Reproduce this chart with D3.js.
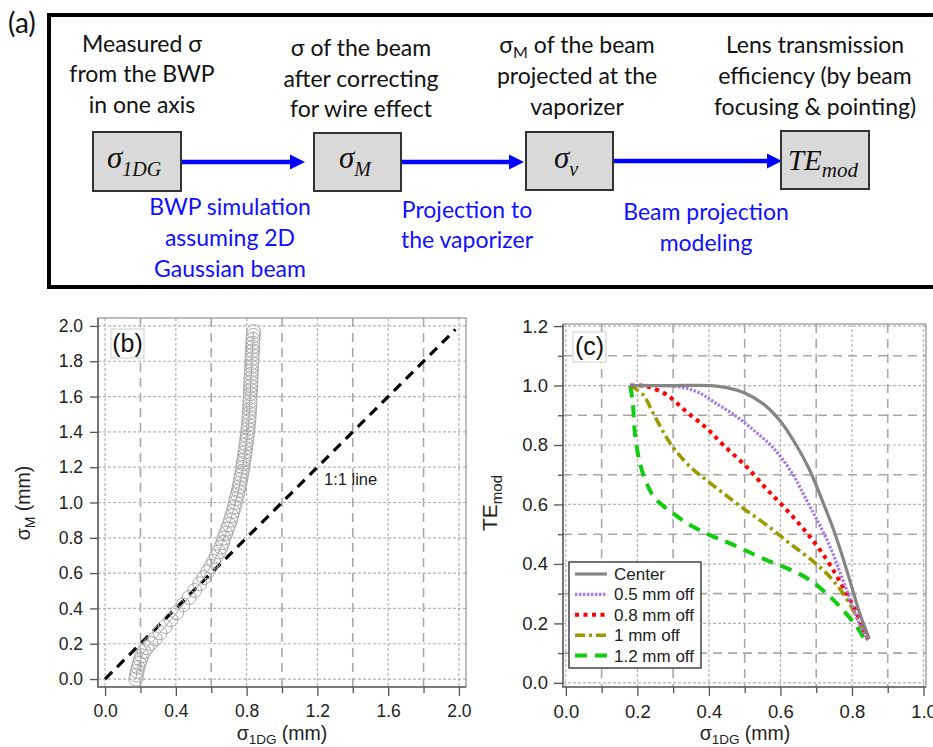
<!DOCTYPE html>
<html>
<head>
<meta charset="utf-8">
<script src="https://cdn.jsdelivr.net/npm/d3@7"></script>
<style>
  body { margin: 0; background: #fff; }
  svg { display: block; }
</style>
</head>
<body>
<svg id="chart" width="933" height="747"></svg>
<script>
// ---------- (a) workflow diagram text ----------
const stepNotes = [
  ["Measured σ", "from the BWP", "in one axis"],
  ["σ of the beam", "after correcting", "for wire effect"],
  ["σ_M of the beam", "projected at the", "vaporizer"],
  ["Lens transmission", "efficiency (by beam", "focusing & pointing)"]
];
const processNotes = [
  ["BWP simulation", "assuming 2D", "Gaussian beam"],
  ["Projection to", "the vaporizer"],
  ["Beam projection", "modeling"]
];
const stepSymbols = [
  { main: "σ", sub: "1DG" },
  { main: "σ", sub: "M" },
  { main: "σ", sub: "v" },
  { main: "TE", sub: "mod" }
];

// ---------- (b) σM versus σ1DG ----------
const sigma1DG_b = [
  0.174, 0.177, 0.181, 0.186, 0.193, 0.200, 0.208, 0.220, 0.237, 0.258,
  0.283, 0.310, 0.340, 0.372, 0.405, 0.440, 0.475, 0.507, 0.535, 0.558,
  0.580, 0.598, 0.614, 0.628, 0.642, 0.655, 0.665, 0.672, 0.682, 0.692,
  0.700, 0.709, 0.716, 0.723, 0.730, 0.737, 0.742, 0.748, 0.753, 0.758,
  0.762, 0.767, 0.771, 0.775, 0.778, 0.781, 0.785, 0.788, 0.791, 0.794,
  0.797, 0.800, 0.803, 0.806, 0.808, 0.810, 0.812, 0.814, 0.815, 0.817,
  0.818, 0.819, 0.820, 0.821, 0.822, 0.823, 0.824, 0.825, 0.826, 0.827,
  0.828, 0.829, 0.830, 0.831, 0.833, 0.834, 0.835, 0.836, 0.838, 0.839
];
const sigmaM_b = [
  0.000, 0.022, 0.044, 0.066, 0.088, 0.110, 0.132, 0.155, 0.178, 0.202,
  0.228, 0.262, 0.298, 0.336, 0.376, 0.420, 0.462, 0.502, 0.540, 0.575,
  0.608, 0.638, 0.666, 0.693, 0.720, 0.747, 0.773, 0.799, 0.825, 0.850,
  0.875, 0.900, 0.925, 0.950, 0.975, 1.000, 1.022, 1.044, 1.066, 1.088,
  1.110, 1.132, 1.154, 1.176, 1.198, 1.220, 1.242, 1.264, 1.286, 1.308,
  1.330, 1.352, 1.374, 1.396, 1.418, 1.440, 1.462, 1.484, 1.506, 1.528,
  1.550, 1.572, 1.594, 1.616, 1.638, 1.660, 1.682, 1.704, 1.726, 1.748,
  1.770, 1.792, 1.814, 1.836, 1.858, 1.880, 1.902, 1.924, 1.946, 1.968
];
const oneToOne = [0, 1.98];
const xTicksB = [0, 0.4, 0.8, 1.2, 1.6, 2.0];
const xMinorB = [0.2, 0.6, 1.0, 1.4, 1.8];
const yTicksB = [0, 0.2, 0.4, 0.6, 0.8, 1.0, 1.2, 1.4, 1.6, 1.8, 2.0];

// ---------- (c) TEmod versus σ1DG ----------
const seriesNames = ["Center", "0.5 mm off", "0.8 mm off", "1 mm off", "1.2 mm off"];
const centerX = [0.18, 0.30, 0.40, 0.45, 0.50, 0.55, 0.60, 0.644, 0.68, 0.718, 0.75, 0.78, 0.80, 0.82, 0.835, 0.848];
const centerY = [1.00, 1.00, 1.00, 0.993, 0.975, 0.94, 0.88, 0.80, 0.72, 0.61, 0.51, 0.40, 0.32, 0.24, 0.19, 0.15];
const off05X = [0.18, 0.25, 0.31, 0.365, 0.42, 0.477, 0.524, 0.58, 0.63, 0.675, 0.71, 0.745, 0.77, 0.795, 0.815, 0.832, 0.846];
const off05Y = [1.00, 1.00, 0.997, 0.98, 0.94, 0.896, 0.851, 0.79, 0.71, 0.61, 0.53, 0.44, 0.36, 0.28, 0.215, 0.17, 0.145];
const off08X = [0.18, 0.21, 0.235, 0.282, 0.337, 0.393, 0.44, 0.505, 0.561, 0.603, 0.645, 0.682, 0.724, 0.757, 0.789, 0.813, 0.831, 0.845];
const off08Y = [1.00, 1.00, 0.994, 0.969, 0.912, 0.857, 0.80, 0.727, 0.652, 0.60, 0.545, 0.492, 0.424, 0.36, 0.292, 0.234, 0.18, 0.145];
const off10X = [0.18, 0.216, 0.244, 0.272, 0.295, 0.347, 0.393, 0.44, 0.496, 0.561, 0.626, 0.69, 0.738, 0.775, 0.803, 0.831, 0.845];
const off10Y = [1.00, 0.969, 0.907, 0.845, 0.80, 0.727, 0.682, 0.638, 0.587, 0.531, 0.469, 0.41, 0.357, 0.301, 0.245, 0.177, 0.144];
const off12X = [0.18, 0.184, 0.188, 0.193, 0.207, 0.226, 0.249, 0.30, 0.347, 0.403, 0.459, 0.561, 0.631, 0.682, 0.734, 0.771, 0.813, 0.841];
const off12Y = [1.00, 0.97, 0.93, 0.84, 0.739, 0.671, 0.621, 0.57, 0.531, 0.497, 0.469, 0.413, 0.379, 0.346, 0.295, 0.25, 0.189, 0.133];
const xTicksC = [0, 0.2, 0.4, 0.6, 0.8, 1.0];
const xMinorC = [0.1, 0.3, 0.5, 0.7, 0.9];
const yTicksC = [0, 0.2, 0.4, 0.6, 0.8, 1.0, 1.2];
const yMinorC = [0.1, 0.3, 0.5, 0.7, 0.9, 1.1];

// ---------- drawing ----------
const svg = d3.select("#chart");
const SANS = "'Liberation Sans', Arial, sans-serif";
const CAL = "Lato, 'Open Sans', sans-serif";
const MATH = "'Liberation Serif', 'DejaVu Serif', serif";

// text with "_sub" segments rendered as subscripts
function rich(sel, str, size, subSize, subDy) {
  const parts = str.split(/_(\w+)/);
  let shifted = false;
  parts.forEach((p, i) => {
    if (!p) return;
    const t = sel.append("tspan").text(p);
    if (i % 2 === 1) {
      t.attr("font-size", subSize).attr("dy", subDy);
      shifted = true;
    } else {
      t.attr("font-size", size);
      if (shifted) { t.attr("dy", -subDy); shifted = false; }
    }
  });
  return sel;
}

// ===== (a) =====
const gA = svg.append("g");
gA.append("text").attr("x", 8).attr("y", 33).attr("font-family", CAL)
  .attr("font-size", 28).attr("fill", "#111").text("(a)");
gA.append("rect").attr("x", 49).attr("y", 15).attr("width", 900).attr("height", 272)
  .attr("fill", "none").attr("stroke", "#000").attr("stroke-width", 4);

const noteCx = [142, 361, 577, 815];
const noteBase = [[52, 82, 113], [56, 87, 117], [53, 84, 115], [53, 84, 115]];
stepNotes.forEach((lines, i) => {
  lines.forEach((ln, j) => {
    const t = gA.append("text").attr("x", noteCx[i]).attr("y", noteBase[i][j])
      .attr("text-anchor", "middle").attr("font-family", CAL).attr("fill", "#111");
    rich(t, ln, 23, 16, 5);
  });
});
const procCx = [230, 467, 706];
const procBase = [[215, 246, 277], [218, 248], [220, 251]];
processNotes.forEach((lines, i) => {
  lines.forEach((ln, j) => {
    gA.append("text").attr("x", procCx[i]).attr("y", procBase[i][j])
      .attr("text-anchor", "middle").attr("font-family", CAL).attr("font-size", 23)
      .attr("fill", "#1010ff").text(ln);
  });
});

const boxes = [
  { x: 93, y: 132, w: 88, h: 59, tx: 134, ty: 168 },
  { x: 314, y: 133, w: 87, h: 58, tx: 355, ty: 168 },
  { x: 526, y: 132, w: 87, h: 58, tx: 566, ty: 168 },
  { x: 781, y: 131, w: 88, h: 58, tx: 823, ty: 170 }
];
const arrows = [
  { x1: 181, x2: 305, y: 162 },
  { x1: 401, x2: 524, y: 162 },
  { x1: 613, x2: 782, y: 161 }
];
arrows.forEach(a => {
  gA.append("line").attr("x1", a.x1).attr("x2", a.x2 - 12).attr("y1", a.y).attr("y2", a.y)
    .attr("stroke", "#0000ff").attr("stroke-width", 4.5);
  gA.append("path")
    .attr("d", `M${a.x2 - 15},${a.y - 7.5}L${a.x2},${a.y}L${a.x2 - 15},${a.y + 7.5}Z`)
    .attr("fill", "#0000ff");
});
boxes.forEach((b, i) => {
  gA.append("rect").attr("x", b.x).attr("y", b.y).attr("width", b.w).attr("height", b.h)
    .attr("fill", "#d9d9d9").attr("stroke", "#333").attr("stroke-width", 2);
  const s = stepSymbols[i];
  const t = gA.append("text").attr("x", b.tx).attr("y", b.ty).attr("text-anchor", "middle")
    .attr("font-family", MATH).attr("font-style", "italic").attr("fill", "#111");
  t.append("tspan").attr("font-size", s.main === "TE" ? 29 : 31).text(s.main);
  t.append("tspan").attr("font-size", s.main === "TE" ? 21 : 20).attr("dy", s.main === "TE" ? 7 : 8).text(s.sub);
});

// ===== shared axis helpers =====
function gridLines(g, vals, scale, orient, x0, x1, style) {
  g.selectAll(null).data(vals).enter().append("line")
    .attr(orient === "v" ? "x1" : "y1", d => scale(d))
    .attr(orient === "v" ? "x2" : "y2", d => scale(d))
    .attr(orient === "v" ? "y1" : "x1", x0)
    .attr(orient === "v" ? "y2" : "x2", x1)
    .attr("stroke", style.c).attr("stroke-width", style.w).attr("stroke-dasharray", style.d);
}
const fineGrid = { c: "#b4b4b4", w: 1.2, d: "3,2" };
const longGrid = { c: "#a8a8a8", w: 1.6, d: "9,6" };

function styleAxis(g, fs) {
  g.select(".domain").remove();
  g.selectAll(".tick line").attr("stroke", "#555").attr("stroke-width", 1.3);
  g.selectAll(".tick text").attr("font-family", SANS).attr("font-size", fs).attr("fill", "#222");
}

// ===== (b) =====
const xB = d3.scaleLinear().domain([-0.04, 2.04]).range([98, 466]);
const yB = d3.scaleLinear().domain([-0.045, 2.045]).range([687, 318]);
const gB = svg.append("g");

gridLines(gB, xTicksB, xB, "v", 318, 687, fineGrid);
gridLines(gB, xMinorB, xB, "v", 318, 687, longGrid);
gridLines(gB, yTicksB, yB, "h", 98, 466, fineGrid);

gB.append("rect").attr("x", 98).attr("y", 318).attr("width", 368).attr("height", 369)
  .attr("fill", "none").attr("stroke", "#999").attr("stroke-width", 1.3);
gB.append("path").attr("d", "M98,318V687H466").attr("fill", "none")
  .attr("stroke", "#666").attr("stroke-width", 1.6);

const axXB = gB.append("g").attr("transform", "translate(0,687)")
  .call(d3.axisBottom(xB).tickValues(xTicksB).tickSize(9).tickPadding(9).tickFormat(d3.format(".1f")));
styleAxis(axXB, 17.5);
const axXBm = gB.append("g").attr("transform", "translate(0,687)")
  .call(d3.axisBottom(xB).tickValues(xMinorB).tickSize(6).tickFormat(""));
styleAxis(axXBm, 17.5);
const axYB = gB.append("g").attr("transform", "translate(98,0)")
  .call(d3.axisLeft(yB).tickValues(yTicksB).tickSize(8).tickPadding(7).tickFormat(d3.format(".1f")));
styleAxis(axYB, 17.5);

// 1:1 reference line
gB.append("line").attr("x1", xB(oneToOne[0])).attr("y1", yB(oneToOne[0]))
  .attr("x2", xB(oneToOne[1])).attr("y2", yB(oneToOne[1]))
  .attr("stroke", "#000").attr("stroke-width", 3.2).attr("stroke-dasharray", "10,7");
gB.append("text").attr("x", 324).attr("y", 485).attr("font-family", SANS)
  .attr("font-size", 16.5).attr("fill", "#222").text("1:1 line");

// measured points
const ptsB = sigma1DG_b.map((x, i) => [x, sigmaM_b[i]]);
gB.append("path").datum(ptsB)
  .attr("d", d3.line().x(d => xB(d[0])).y(d => yB(d[1])))
  .attr("fill", "none").attr("stroke", "#a0a0a0").attr("stroke-width", 1);
gB.selectAll("circle.pt").data(ptsB).enter().append("circle").attr("class", "pt")
  .attr("cx", d => xB(d[0])).attr("cy", d => yB(d[1])).attr("r", 7)
  .attr("fill", "none").attr("stroke", "#a8a8a8").attr("stroke-width", 1);

gB.append("rect").attr("x", 111).attr("y", 329).attr("width", 33).attr("height", 29)
  .attr("fill", "#fff").attr("stroke", "#ccc").attr("stroke-width", 1);
gB.append("text").attr("x", 127.5).attr("y", 352).attr("text-anchor", "middle")
  .attr("font-family", SANS).attr("font-size", 25).attr("fill", "#111").text("(b)");

rich(gB.append("text").attr("x", 282).attr("y", 740).attr("text-anchor", "middle")
  .attr("font-family", SANS).attr("fill", "#222"), "σ_1DG (mm)", 19.5, 13.5, 4);
rich(gB.append("text").attr("transform", "translate(30,503) rotate(-90)").attr("text-anchor", "middle")
  .attr("font-family", SANS).attr("fill", "#222"), "σ_M (mm)", 19.5, 14, 5);

// ===== (c) =====
const xC = d3.scaleLinear().domain([-0.008, 1.007]).range([563, 926]);
const yC = d3.scaleLinear().domain([-0.014, 1.207]).range([687, 324]);
const gC = svg.append("g");

gridLines(gC, xTicksC, xC, "v", 324, 687, fineGrid);
gridLines(gC, xMinorC, xC, "v", 324, 687, longGrid);
gridLines(gC, yTicksC, yC, "h", 563, 926, fineGrid);
gridLines(gC, yMinorC, yC, "h", 563, 926, longGrid);

gC.append("rect").attr("x", 563).attr("y", 324).attr("width", 363).attr("height", 363)
  .attr("fill", "none").attr("stroke", "#999").attr("stroke-width", 1.3);
gC.append("path").attr("d", "M563,324V687H926").attr("fill", "none")
  .attr("stroke", "#666").attr("stroke-width", 1.6);

const axXC = gC.append("g").attr("transform", "translate(0,687)")
  .call(d3.axisBottom(xC).tickValues(xTicksC).tickSize(9).tickPadding(9).tickFormat(d3.format(".1f")));
styleAxis(axXC, 18.5);
const axXCm = gC.append("g").attr("transform", "translate(0,687)")
  .call(d3.axisBottom(xC).tickValues(xMinorC).tickSize(6).tickFormat(""));
styleAxis(axXCm, 18.5);
const axYC = gC.append("g").attr("transform", "translate(563,0)")
  .call(d3.axisLeft(yC).tickValues(yTicksC).tickSize(9).tickPadding(6).tickFormat(d3.format(".1f")));
styleAxis(axYC, 18.5);
const axYCm = gC.append("g").attr("transform", "translate(563,0)")
  .call(d3.axisLeft(yC).tickValues(yMinorC).tickSize(5).tickFormat(""));
styleAxis(axYCm, 18.5);

const seriesStyle = [
  { c: "#858585", w: 3.2, d: null },
  { c: "#a57ae6", w: 3.2, d: "2.4,1.6" },
  { c: "#ff0000", w: 4, d: "4,4.5" },
  { c: "#9d9a00", w: 3.6, d: "10,4,3,4" },
  { c: "#11cc11", w: 4, d: "12,8" }
];
const seriesData = [
  [centerX, centerY], [off05X, off05Y], [off08X, off08Y], [off10X, off10Y], [off12X, off12Y]
];
const lineC = d3.line().curve(d3.curveCatmullRom.alpha(0.5)).x(d => xC(d[0])).y(d => yC(d[1]));
// draw back to front so the solid center curve sits on top at the shared end points
[4, 3, 2, 1, 0].forEach(k => {
  const pts = seriesData[k][0].map((x, i) => [x, seriesData[k][1][i]]);
  gC.append("path").datum(pts).attr("d", lineC)
    .attr("fill", "none").attr("stroke", seriesStyle[k].c)
    .attr("stroke-width", seriesStyle[k].w).attr("stroke-dasharray", seriesStyle[k].d);
});

// legend
const lg = gC.append("g");
lg.append("rect").attr("x", 569).attr("y", 562).attr("width", 132).attr("height", 106)
  .attr("fill", "#fff").attr("stroke", "#444").attr("stroke-width", 1.5);
seriesNames.forEach((name, k) => {
  const cy = 574 + k * 20.4;
  lg.append("line").attr("x1", 575).attr("x2", 607).attr("y1", cy).attr("y2", cy)
    .attr("stroke", seriesStyle[k].c).attr("stroke-width", seriesStyle[k].w)
    .attr("stroke-dasharray", seriesStyle[k].d);
  lg.append("text").attr("x", 614).attr("y", cy).attr("dy", "0.35em")
    .attr("font-family", SANS).attr("font-size", 17).attr("fill", "#222").text(name);
});

gC.append("rect").attr("x", 573).attr("y", 332).attr("width", 33).attr("height", 30)
  .attr("fill", "#fff").attr("stroke", "#ccc").attr("stroke-width", 1);
gC.append("text").attr("x", 589.5).attr("y", 355).attr("text-anchor", "middle")
  .attr("font-family", SANS).attr("font-size", 25).attr("fill", "#111").text("(c)");

rich(gC.append("text").attr("x", 745).attr("y", 740).attr("text-anchor", "middle")
  .attr("font-family", SANS).attr("fill", "#222"), "σ_1DG (mm)", 19.5, 13.5, 4);
rich(gC.append("text").attr("transform", "translate(497,503) rotate(-90)").attr("text-anchor", "middle")
  .attr("font-family", SANS).attr("fill", "#222"), "TE_mod", 21, 15, 5);
</script>
</body>
</html>
